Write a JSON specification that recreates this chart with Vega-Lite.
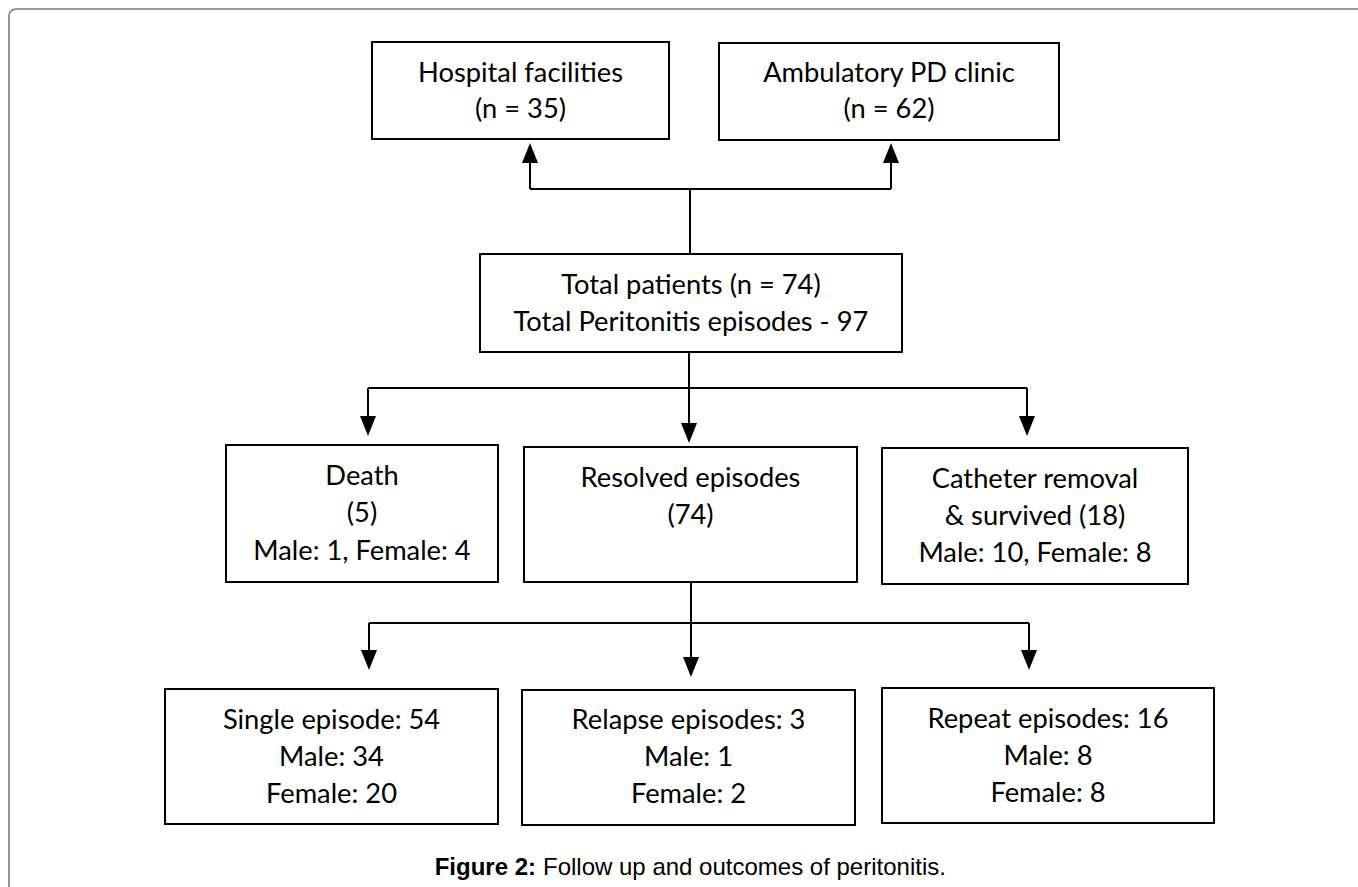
{
  "$schema": "https://vega.github.io/schema/vega-lite/v6.json",
  "autosize": {"type": "fit", "contains": "padding"},
  "width": 1358,
  "height": 887,
  "padding": 0,
  "background": "white",
  "config": {"view": {"stroke": null}},
  "datasets": {
    "frame": [{"x1": 9, "x2": 1420, "y1": 9, "y2": 950}],
    "boxes": [
      {"name": "Hospital", "x1": 372, "x2": 669, "y1": 42, "y2": 139},
      {"name": "Ambulatory", "x1": 719, "x2": 1059, "y1": 43, "y2": 140},
      {"name": "Total", "x1": 480, "x2": 902, "y1": 254, "y2": 352},
      {"name": "Death", "x1": 226, "x2": 498, "y1": 445, "y2": 582},
      {"name": "Resolved", "x1": 524, "x2": 857, "y1": 447, "y2": 582},
      {"name": "Catheter", "x1": 882, "x2": 1188, "y1": 448, "y2": 584},
      {"name": "Single", "x1": 165, "x2": 498, "y1": 689, "y2": 824},
      {"name": "Relapse", "x1": 522, "x2": 855, "y1": 690, "y2": 825},
      {"name": "Repeat", "x1": 882, "x2": 1214, "y1": 688, "y2": 823}
    ],
    "lines": [
      {"x1": 690, "y1": 189, "x2": 690, "y2": 254},
      {"x1": 530, "y1": 189, "x2": 891, "y2": 189},
      {"x1": 530, "y1": 189, "x2": 530, "y2": 155},
      {"x1": 891, "y1": 189, "x2": 891, "y2": 155},
      {"x1": 689, "y1": 352, "x2": 689, "y2": 430},
      {"x1": 368, "y1": 388, "x2": 1027, "y2": 388},
      {"x1": 368, "y1": 388, "x2": 368, "y2": 424},
      {"x1": 1027, "y1": 388, "x2": 1027, "y2": 424},
      {"x1": 691, "y1": 582, "x2": 691, "y2": 665},
      {"x1": 369, "y1": 623, "x2": 1029, "y2": 623},
      {"x1": 369, "y1": 623, "x2": 369, "y2": 658},
      {"x1": 1029, "y1": 623, "x2": 1029, "y2": 658}
    ],
    "arrows": [
      {"x": 530, "y": 153, "dir": "up"},
      {"x": 891, "y": 153, "dir": "up"},
      {"x": 368, "y": 426, "dir": "down"},
      {"x": 689, "y": 433, "dir": "down"},
      {"x": 1027, "y": 426, "dir": "down"},
      {"x": 369, "y": 660, "dir": "down"},
      {"x": 691, "y": 667, "dir": "down"},
      {"x": 1029, "y": 660, "dir": "down"}
    ],
    "labels": [
      {"text": "Hospital facilities", "x": 520.5, "y": 82},
      {"text": "(n = 35)", "x": 520.5, "y": 118},
      {"text": "Ambulatory PD clinic", "x": 889, "y": 82},
      {"text": "(n = 62)", "x": 889, "y": 118},
      {"text": "Total patients (n = 74)", "x": 691, "y": 294},
      {"text": "Total Peritonitis episodes - 97", "x": 691, "y": 331},
      {"text": "Death", "x": 362, "y": 485},
      {"text": "(5)", "x": 362, "y": 522},
      {"text": "Male: 1, Female: 4", "x": 362, "y": 560},
      {"text": "Resolved episodes", "x": 690.5, "y": 487},
      {"text": "(74)", "x": 690.5, "y": 524},
      {"text": "Catheter removal", "x": 1035, "y": 488},
      {"text": "& survived (18)", "x": 1035, "y": 525},
      {"text": "Male: 10, Female: 8", "x": 1035, "y": 562},
      {"text": "Single episode: 54", "x": 331.5, "y": 729},
      {"text": "Male: 34", "x": 331.5, "y": 766},
      {"text": "Female: 20", "x": 331.5, "y": 803},
      {"text": "Relapse episodes: 3", "x": 688.5, "y": 729},
      {"text": "Male: 1", "x": 688.5, "y": 766},
      {"text": "Female: 2", "x": 688.5, "y": 803},
      {"text": "Repeat episodes: 16", "x": 1048, "y": 728},
      {"text": "Male: 8", "x": 1048, "y": 765},
      {"text": "Female: 8", "x": 1048, "y": 802}
    ],
    "caption": [
      {"part": "bold", "text": "Figure 2:", "x": 536, "y": 875},
      {"part": "regular", "text": "Follow up and outcomes of peritonitis.", "x": 543, "y": 875}
    ]
  },
  "layer": [
    {
      "data": {"name": "frame"},
      "mark": {"type": "rect", "fill": null, "stroke": "#7a7a7a", "strokeWidth": 1.6, "cornerRadius": 7, "clip": true},
      "encoding": {
        "x": {"field": "x1", "type": "quantitative", "scale": {"domain": [0, 1358], "nice": false, "zero": false}, "axis": null},
        "x2": {"field": "x2"},
        "y": {"field": "y1", "type": "quantitative", "scale": {"domain": [887, 0], "nice": false, "zero": false}, "axis": null},
        "y2": {"field": "y2"}
      }
    },
    {
      "data": {"name": "boxes"},
      "mark": {"type": "rect", "fill": "white", "stroke": "black", "strokeWidth": 2},
      "encoding": {
        "x": {"field": "x1", "type": "quantitative"},
        "x2": {"field": "x2"},
        "y": {"field": "y1", "type": "quantitative"},
        "y2": {"field": "y2"}
      }
    },
    {
      "data": {"name": "lines"},
      "mark": {"type": "rule", "stroke": "black", "strokeWidth": 2},
      "encoding": {
        "x": {"field": "x1", "type": "quantitative"},
        "x2": {"field": "x2"},
        "y": {"field": "y1", "type": "quantitative"},
        "y2": {"field": "y2"}
      }
    },
    {
      "data": {"name": "arrows"},
      "mark": {"type": "point", "filled": true, "fill": "black", "stroke": null, "size": 400, "opacity": 1},
      "encoding": {
        "x": {"field": "x", "type": "quantitative"},
        "y": {"field": "y", "type": "quantitative"},
        "shape": {
          "field": "dir", "type": "nominal", "legend": null,
          "scale": {"domain": ["down", "up"], "range": ["M-0.8,-1L0.8,-1L0,1Z", "M-0.8,1L0.8,1L0,-1Z"]}
        }
      }
    },
    {
      "data": {"name": "labels"},
      "mark": {"type": "text", "font": "Lato", "fontSize": 27.3, "align": "center", "baseline": "alphabetic", "color": "black"},
      "encoding": {
        "x": {"field": "x", "type": "quantitative"},
        "y": {"field": "y", "type": "quantitative"},
        "text": {"field": "text"}
      }
    },
    {
      "data": {"name": "caption"},
      "transform": [{"filter": "datum.part === 'bold'"}],
      "mark": {"type": "text", "font": "Liberation Sans", "fontSize": 24, "fontWeight": "bold", "align": "right", "baseline": "alphabetic", "color": "black"},
      "encoding": {
        "x": {"field": "x", "type": "quantitative"},
        "y": {"field": "y", "type": "quantitative"},
        "text": {"field": "text"}
      }
    },
    {
      "data": {"name": "caption"},
      "transform": [{"filter": "datum.part === 'regular'"}],
      "mark": {"type": "text", "font": "Liberation Sans", "fontSize": 24, "align": "left", "baseline": "alphabetic", "color": "black"},
      "encoding": {
        "x": {"field": "x", "type": "quantitative"},
        "y": {"field": "y", "type": "quantitative"},
        "text": {"field": "text"}
      }
    }
  ]
}
